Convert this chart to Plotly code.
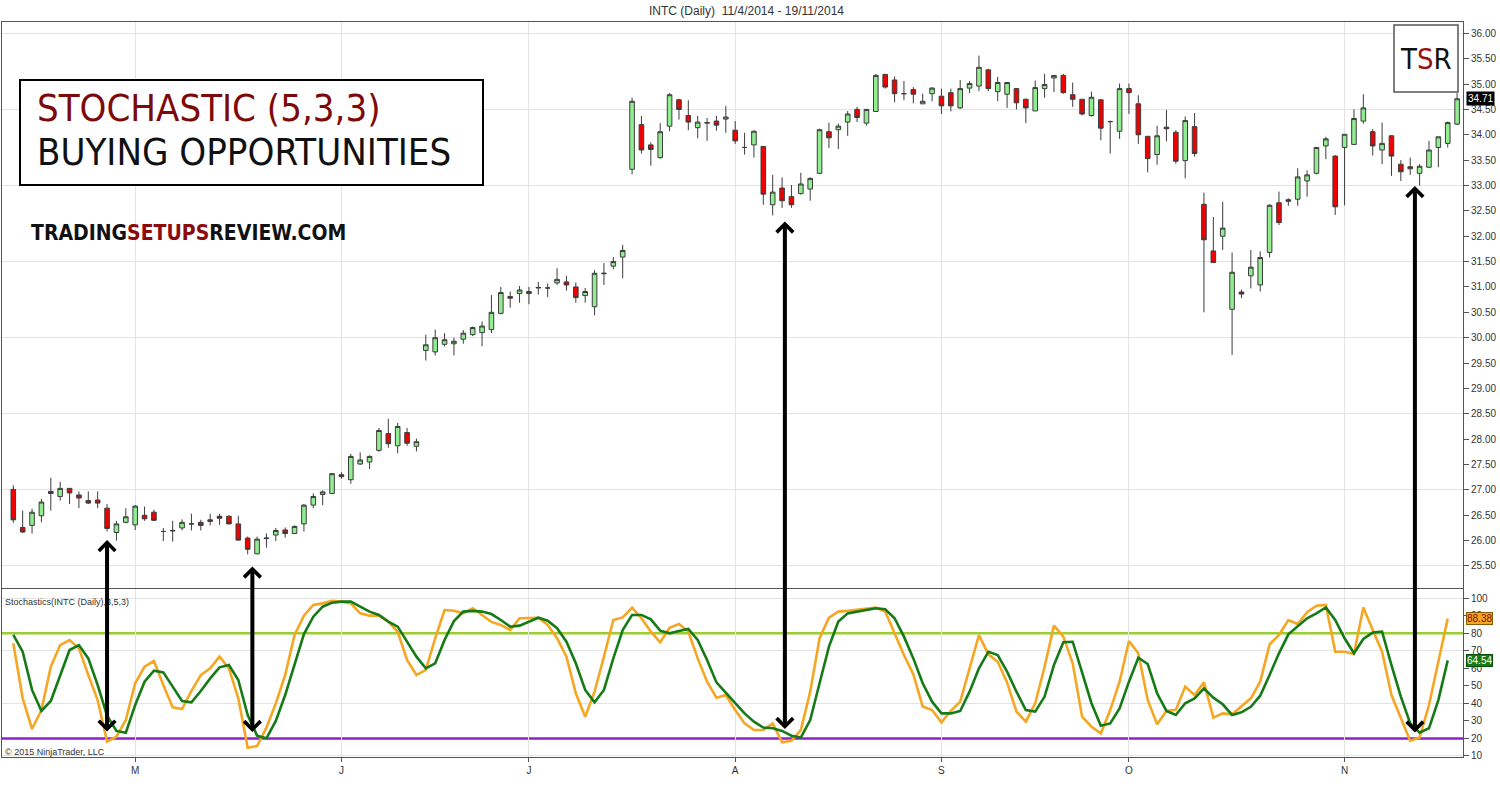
import plotly.graph_objects as go

# ---------------- data ----------------
opens = [27.01,26.26,26.30,26.49,26.97,26.87,27.03,26.90,26.79,26.80,26.64,26.16,26.36,26.31,26.50,26.56,26.18,26.19,26.25,26.33,
         26.36,26.41,26.48,26.48,26.33,26.05,25.74,26.04,26.11,26.21,26.14,26.33,26.70,26.91,26.93,27.30,27.20,27.51,27.55,27.78,
         28.11,27.87,28.13,27.86,29.75,29.72,29.87,29.88,29.97,30.06,30.10,30.16,30.48,30.81,30.87,30.87,30.98,30.98,31.08,31.10,
         31.00,30.83,30.61,31.26,31.41,31.59,33.32,34.20,33.80,33.55,34.17,34.69,34.38,34.14,34.23,34.27,34.31,34.09,33.75,33.80,
         33.77,32.62,32.95,32.78,32.84,32.93,33.24,34.06,34.10,34.25,34.50,34.23,34.46,35.19,35.08,34.81,34.89,34.61,34.81,34.76,
         34.83,34.53,34.92,34.96,35.28,34.85,34.80,34.91,34.70,34.47,34.91,35.12,35.17,34.79,34.70,34.38,34.69,34.26,34.07,34.91,
         34.61,33.97,33.61,34.15,34.05,33.49,34.16,32.63,31.71,32.00,30.56,30.90,31.22,31.04,31.68,32.66,32.72,32.73,33.09,33.24,
         33.78,33.58,33.75,33.81,34.27,34.06,33.70,33.98,33.42,33.37,33.24,33.36,33.75,33.83,34.21]
highs = [27.09,26.59,26.63,26.82,27.24,27.16,27.03,26.97,26.97,26.97,26.72,26.39,26.64,26.70,26.67,26.61,26.25,26.39,26.42,26.53,
         26.41,26.53,26.53,26.50,26.49,26.08,26.08,26.14,26.25,26.26,26.30,26.72,26.93,26.99,27.33,27.35,27.71,27.74,27.68,28.22,
         28.40,28.32,28.22,28.01,30.06,30.16,30.09,30.00,30.15,30.22,30.32,30.84,31.00,30.91,31.02,31.00,31.10,31.07,31.37,31.22,
         31.09,30.98,31.33,31.47,31.59,31.83,34.73,34.37,33.85,34.23,34.82,34.71,34.68,34.37,34.33,34.37,34.57,34.27,34.04,34.09,
         33.78,33.21,33.16,33.01,33.25,33.16,34.12,34.24,34.22,34.47,34.55,34.51,35.20,35.20,35.15,35.06,34.94,34.81,34.94,34.91,
         34.91,35.08,35.06,35.56,35.30,35.14,35.04,34.91,34.71,35.07,35.20,35.17,35.20,35.03,34.70,34.85,34.69,34.28,35.01,35.01,
         34.78,33.97,34.18,34.49,34.09,34.36,34.43,32.86,32.38,32.68,31.68,30.95,31.73,31.70,32.63,32.88,32.75,33.34,33.30,33.75,
         33.96,33.60,34.01,34.50,34.80,34.11,34.24,33.99,33.50,33.55,33.42,33.88,33.96,34.26,34.82]
lows = [26.35,26.15,26.14,26.36,26.59,26.79,26.72,26.64,26.72,26.64,26.18,26.00,26.34,26.21,26.39,26.39,25.99,25.98,26.20,26.20,
        26.20,26.30,26.31,26.32,26.00,25.73,25.73,25.86,25.99,26.06,26.13,26.18,26.64,26.70,26.92,27.22,27.12,27.49,27.41,27.75,
        27.83,27.72,27.87,27.76,29.55,29.65,29.83,29.65,29.88,30.03,29.83,30.09,30.46,30.59,30.69,30.66,30.85,30.80,31.04,30.93,
        30.69,30.69,30.44,31.04,31.35,31.17,33.22,33.63,33.39,33.53,34.07,34.30,34.09,33.93,33.88,34.08,34.04,33.82,33.61,33.55,
        32.62,32.41,32.56,32.56,32.82,32.70,33.23,33.74,33.72,33.98,34.25,34.18,34.45,34.91,34.64,34.68,34.62,34.61,34.66,34.41,
        34.46,34.51,34.82,34.86,34.86,34.66,34.53,34.50,34.23,34.47,34.73,34.84,34.81,34.55,34.38,34.36,33.89,33.63,33.92,34.41,
        33.82,33.26,33.41,33.87,33.43,33.14,33.57,30.50,31.48,31.73,29.66,30.78,30.97,30.91,31.58,32.22,32.60,32.60,32.78,33.22,
        33.52,32.42,32.61,33.80,34.22,33.59,33.42,33.19,33.09,33.21,33.00,33.34,33.36,33.75,34.19]
closes = [26.41,26.17,26.56,26.76,26.93,27.03,26.94,26.84,26.74,26.74,26.24,26.33,26.47,26.68,26.43,26.40,26.18,26.20,26.36,26.33,
          26.30,26.38,26.44,26.33,26.01,25.83,26.03,26.05,26.20,26.14,26.28,26.70,26.87,26.96,27.32,27.26,27.66,27.59,27.66,28.17,
          27.91,28.25,27.92,27.95,29.86,30.00,29.96,29.93,30.09,30.20,30.23,30.50,30.89,30.78,30.94,30.91,30.99,30.98,31.15,31.04,
          30.79,30.91,31.27,31.27,31.50,31.72,34.66,33.70,33.71,34.06,34.79,34.50,34.25,34.25,34.24,34.19,34.35,33.88,33.75,34.07,
          32.83,32.87,32.70,32.62,33.03,33.14,34.10,33.94,34.17,34.41,34.34,34.50,35.17,34.94,34.81,34.81,34.80,34.66,34.92,34.57,
          34.57,34.91,35.01,35.33,34.91,35.03,35.03,34.63,34.53,34.93,34.99,35.17,34.83,34.70,34.41,34.74,34.13,34.26,34.91,34.83,
          34.00,33.53,33.98,34.12,33.48,34.28,33.63,31.93,31.48,32.16,31.29,30.86,31.39,31.58,32.61,32.27,32.69,33.17,33.21,33.75,
          33.92,32.58,34.01,34.32,34.53,33.78,33.83,33.58,33.27,33.33,33.38,33.70,33.96,34.24,34.71]

# Stochastics(3,5,3): orange and green lines (no value yet for the bar in progress)
stoch_orange = [74.3,42.9,25.4,36.2,61.0,73.3,76.2,71.4,56.2,41.9,18.2,21.0,30.5,51.5,61.0,64.2,50.5,37.8,36.8,47.1,
                56.2,60.0,66.7,60.0,42.9,14.7,15.7,26.2,40.0,56.2,79.1,90.1,96.2,97.1,98.5,98.1,97.1,91.4,90.1,90.1,
                86.7,80.9,64.8,56.2,59.1,77.1,93.3,92.9,91.4,94.3,90.5,86.5,84.8,81.9,88.6,88.6,88.9,84.8,77.2,66.7,
                45.8,32.4,46.7,66.7,87.6,89.1,94.7,88.6,81.0,74.9,83.2,85.3,81.0,65.7,52.4,43.3,44.8,36.2,28.6,24.8,
                24.8,28.6,17.8,18.6,24.8,46.7,77.2,88.9,92.4,92.8,93.3,93.9,94.7,92.4,80.0,67.6,56.6,38.2,36.2,29.2,
                35.7,41.0,60.0,79.0,68.0,63.8,52.0,35.3,29.6,40.1,60.9,84.4,78.1,62.9,32.4,26.7,22.9,36.2,52.4,75.6,
                68.6,42.0,28.1,35.7,36.3,49.6,44.8,52.0,31.9,34.3,33.8,38.1,42.9,52.4,73.7,79.1,87.6,85.3,92.0,95.8,
                96.2,69.5,69.5,68.2,94.8,81.9,69.5,44.8,31.5,18.6,20.5,39.1,63.8,88.38]
stoch_green = [79.1,69.5,47.7,35.7,41.4,56.2,70.5,73.3,65.7,50.5,33.0,24.3,23.3,39.1,52.4,58.7,57.7,49.6,41.4,40.6,
               47.1,54.3,60.6,61.9,53.4,33.4,21.6,20.1,30.0,44.8,61.9,79.6,89.5,95.2,97.5,98.1,98.1,95.2,92.4,90.5,
               86.7,83.8,75.2,66.7,60.0,62.9,76.2,87.0,92.4,92.8,92.4,91.0,87.6,83.8,84.4,86.7,88.9,87.2,82.9,75.2,
               62.9,47.7,40.6,47.7,65.7,81.9,90.5,90.5,88.0,81.5,80.0,81.3,82.5,76.2,64.8,52.0,45.8,40.1,34.3,29.6,
               26.2,25.8,24.3,21.6,20.5,30.5,51.5,72.4,86.7,91.4,92.4,93.3,94.3,93.7,88.6,78.1,65.7,51.5,41.0,34.3,
               34.3,35.7,46.7,60.0,69.5,67.6,58.1,46.7,36.2,35.3,43.9,61.9,74.9,75.2,57.2,40.1,27.3,28.6,37.2,52.4,
               66.1,62.5,45.8,35.7,33.4,40.1,42.9,48.6,43.3,39.5,33.4,34.9,38.1,44.4,56.2,68.6,79.4,84.2,88.6,91.4,
               94.8,87.6,77.2,68.6,76.8,80.4,81.0,61.9,43.9,28.6,23.3,25.8,41.9,64.54]
overbought = 80
oversold = 20

month_pos = [13, 35, 55, 77, 99, 119, 142]
month_labels = ["M", "J", "J", "A", "S", "O", "N"]

bars = list(range(len(closes)))
stoch_bars = bars[:len(stoch_green)]

# ---------------- layout helpers (pixel -> paper) ----------------
W, H = 1500, 793
L, R, T, B = 2, 1463, 22, 757
def px(x):
    return (x - L) / (R - L)
def py(y):
    return (B - y) / (B - T)

FONT = "Liberation Sans, Arial, sans-serif"
COND = "Liberation Sans Narrow, DejaVu Sans Condensed, Liberation Sans, Arial, sans-serif"
GRID = "#e3e3e3"
AXL = "#555555"

price_range = [25.066, 36.223]
stoch_range = [9.42, 105.3]
x_range = [-1.205, 154.63]

fig = go.Figure()
fig.add_trace(go.Candlestick(
    x=bars, open=opens, high=highs, low=lows, close=closes,
    increasing=dict(fillcolor="#90EE90", line=dict(color="#3c3c3c", width=1)),
    decreasing=dict(fillcolor="#F00000", line=dict(color="#3c3c3c", width=1)),
    whiskerwidth=0, xaxis="x", yaxis="y", showlegend=False, hoverinfo="skip"))
fig.add_trace(go.Scatter(x=stoch_bars, y=stoch_orange, mode="lines",
                         line=dict(color="#F5A623", width=2.6), xaxis="x2", yaxis="y2",
                         showlegend=False, hoverinfo="skip"))
fig.add_trace(go.Scatter(x=stoch_bars, y=stoch_green, mode="lines",
                         line=dict(color="#167A16", width=2.6), xaxis="x2", yaxis="y2",
                         showlegend=False, hoverinfo="skip"))
# invisible helpers so the grid-only overlay axes are drawn
fig.add_trace(go.Scatter(x=[bars[0]], y=[closes[0]], mode="markers", marker=dict(opacity=0),
                         xaxis="x", yaxis="y3", showlegend=False, hoverinfo="skip"))
fig.add_trace(go.Scatter(x=[bars[0]], y=[stoch_green[0]], mode="markers", marker=dict(opacity=0),
                         xaxis="x2", yaxis="y4", showlegend=False, hoverinfo="skip"))

tickfont = dict(family=FONT, size=10, color="#333333")
fig.update_layout(
    width=W, height=H,
    margin=dict(l=L, r=W - R, t=T, b=H - B, autoexpand=False),
    paper_bgcolor="white", plot_bgcolor="white",
    xaxis=dict(domain=[0, 1], range=x_range, anchor="y", tickvals=month_pos, showticklabels=False,
               showgrid=True, gridcolor=GRID, zeroline=False, ticks="", automargin=False,
               showline=True, mirror=True, linecolor=AXL, linewidth=1, rangeslider=dict(visible=False)),
    xaxis2=dict(domain=[0, 1], range=x_range, anchor="y2", matches="x", tickvals=month_pos,
                ticktext=month_labels, tickfont=tickfont, ticks="outside", ticklen=4, tickcolor=AXL,
                showgrid=True, gridcolor=GRID, zeroline=False, automargin=False,
                showline=True, mirror=True, linecolor=AXL, linewidth=1),
    yaxis=dict(domain=[py(588), 1], range=price_range, side="right", anchor="x",
               tick0=25.5, dtick=0.5, tickformat=".2f", tickfont=tickfont, ticks="outside",
               ticklen=5, tickcolor=AXL, showgrid=False, zeroline=False, automargin=False,
               showline=True, mirror=True, linecolor=AXL, linewidth=1),
    yaxis2=dict(domain=[0, py(589)], range=stoch_range, side="right", anchor="x2",
                tick0=10, dtick=10, tickfont=tickfont, ticks="outside", ticklen=5, tickcolor=AXL,
                showgrid=False, zeroline=False, automargin=False,
                showline=True, mirror=True, linecolor=AXL, linewidth=1),
    yaxis3=dict(overlaying="y", range=price_range, side="right", anchor="x", tick0=25.5, dtick=1.5,
                showgrid=True, gridcolor=GRID, showticklabels=False, ticks="", zeroline=False,
                showline=False, automargin=False),
    yaxis4=dict(overlaying="y2", range=stoch_range, side="right", anchor="x2", tick0=10, dtick=30,
                showgrid=True, gridcolor=GRID, showticklabels=False, ticks="", zeroline=False,
                showline=False, automargin=False),
)

# overbought / oversold levels
fig.add_shape(type="line", xref="x2 domain", yref="y2", x0=0, x1=1, y0=overbought, y1=overbought,
              line=dict(color="#9ACD32", width=2.5), layer="below")
fig.add_shape(type="line", xref="x2 domain", yref="y2", x0=0, x1=1, y0=oversold, y1=oversold,
              line=dict(color="#8B22C9", width=2.5), layer="below")

ann = []
# chart title
ann.append(dict(x=px(746), y=py(11), xref="paper", yref="paper", text="INTC (Daily)&nbsp;&nbsp;11/4/2014 - 19/11/2014",
                showarrow=False, font=dict(family=FONT, size=12, color="#333333"), xanchor="center", yanchor="middle"))
# indicator label and copyright
ann.append(dict(x=px(3), y=py(602), xref="paper", yref="paper", text="Stochastics(INTC (Daily),3,5,3)",
                showarrow=False, font=dict(family=FONT, size=9, color="#333333"), xanchor="left", yanchor="middle"))
ann.append(dict(x=px(3), y=py(752), xref="paper", yref="paper", text="© 2015 NinjaTrader, LLC",
                showarrow=False, font=dict(family=FONT, size=9, color="#333333"), xanchor="left", yanchor="middle"))

# last value tags on the right axis
ann.append(dict(x=1, y=closes[-1], xref="paper", yref="y", text=f"{closes[-1]:.2f}", showarrow=False,
                xanchor="left", yanchor="middle", xshift=3, bgcolor="#000000", borderpad=1,
                font=dict(family=FONT, size=10, color="white")))
ann.append(dict(x=1, y=stoch_orange[-1], xref="paper", yref="y2", text=f"{stoch_orange[-1]:.2f}", showarrow=False,
                xanchor="left", yanchor="middle", xshift=3, bgcolor="#F5A623", bordercolor="#8a5a00", borderwidth=1,
                borderpad=0, font=dict(family=FONT, size=10, color="#7a1010")))
ann.append(dict(x=1, y=stoch_green[-1], xref="paper", yref="y2", text=f"{stoch_green[-1]:.2f}", showarrow=False,
                xanchor="left", yanchor="middle", xshift=3, bgcolor="#167A16", bordercolor="#0b4d0b", borderwidth=1,
                borderpad=0, font=dict(family=FONT, size=10, color="white")))

# title box
fig.add_shape(type="rect", xref="paper", yref="paper", x0=px(20), x1=px(483), y0=py(185), y1=py(80),
              line=dict(color="black", width=2), fillcolor="white", layer="above")
ann.append(dict(x=px(35), y=py(108), xref="paper", yref="paper", text="STOCHASTIC (5,3,3)", showarrow=False,
                xanchor="left", yanchor="middle", font=dict(family=COND, size=38, color="#7d0a0a")))
ann.append(dict(x=px(35), y=py(152), xref="paper", yref="paper", text="BUYING OPPORTUNITIES", showarrow=False,
                xanchor="left", yanchor="middle", font=dict(family=COND, size=38, color="#111111")))
# website text
ann.append(dict(x=px(29), y=py(233), xref="paper", yref="paper",
                text="<b>TRADING<span style='color:#8b0a0a'>SETUPS</span>REVIEW.COM</b>", showarrow=False,
                xanchor="left", yanchor="middle", font=dict(family=COND, size=21, color="#111111")))
# logo
fig.add_shape(type="rect", xref="paper", yref="paper", x0=px(1394), x1=px(1458), y0=py(92), y1=py(25),
              line=dict(color="#555555", width=1.5), fillcolor="white", layer="above")
ann.append(dict(x=px(1426), y=py(59), xref="paper", yref="paper",
                text="T<span style='color:#9b1010'>S</span>R", showarrow=False,
                xanchor="center", yanchor="middle", font=dict(family=COND, size=29, color="#111111")))

# buy-signal arrows: (bar position, top tip price, length in px down to the oscillator)
arrows = [(10.0, 26.01, 193), (25.5, 25.49, 167), (82.3, 32.29, 509), (149.5, 32.99, 548)]
for ax_, ay_, ln in arrows:
    ann.append(dict(x=ax_, y=ay_, xref="x", yref="y", ax=0, ay=ln, text="", showarrow=True,
                    arrowhead=4, startarrowhead=4, arrowside="end+start", arrowsize=0.8, startarrowsize=0.8,
                    arrowwidth=4, arrowcolor="#000000", standoff=0, startstandoff=0))

fig.update_layout(annotations=ann)
fig.write_html("out.html", config={"displayModeBar": False},
               post_script="document.body.style.margin='0px';document.body.style.overflow='hidden';")
